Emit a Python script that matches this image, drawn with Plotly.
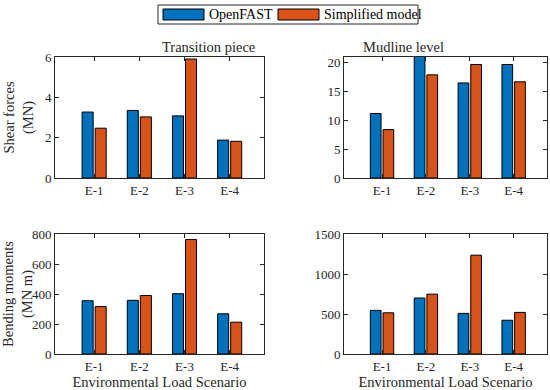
import plotly.graph_objects as go
from plotly.subplots import make_subplots

scenarios = ["E-1", "E-2", "E-3", "E-4"]
shear_tp_openfast = [3.27, 3.35, 3.08, 1.88]
shear_tp_simplified = [2.47, 3.03, 5.90, 1.82]
shear_ml_openfast = [11.2, 21.3, 16.5, 19.7]
shear_ml_simplified = [8.4, 17.9, 19.7, 16.7]
bend_tp_openfast = [355, 358, 402, 268]
bend_tp_simplified = [316, 390, 763, 212]
bend_ml_openfast = [545, 700, 508, 422]
bend_ml_simplified = [515, 748, 1235, 520]
series_names = ["OpenFAST", "Simplified model"]

BLUE = "#0072BD"
ORANGE = "#D95319"
FONT = "Liberation Serif, DejaVu Serif, serif"
TXT = "#262626"

fig = make_subplots(rows=2, cols=2)

panels = [
    (1, 1, shear_tp_openfast, shear_tp_simplified, [0, 6], [0, 2, 4, 6]),
    (1, 2, shear_ml_openfast, shear_ml_simplified, [0, 21], [0, 5, 10, 15, 20]),
    (2, 1, bend_tp_openfast, bend_tp_simplified, [0, 800], [0, 200, 400, 600, 800]),
    (2, 2, bend_ml_openfast, bend_ml_simplified, [0, 1500], [0, 500, 1000, 1500]),
]

for r, c, a, b, yr, yt in panels:
    fig.add_trace(go.Bar(x=scenarios, y=a, name=series_names[0], marker_color=BLUE,
                         marker_line_color="black", marker_line_width=1,
                         showlegend=False), row=r, col=c)
    fig.add_trace(go.Bar(x=scenarios, y=b, name=series_names[1], marker_color=ORANGE,
                         marker_line_color="black", marker_line_width=1,
                         showlegend=False), row=r, col=c)
    fig.update_yaxes(range=yr, tickvals=yt, row=r, col=c)

xdom = {1: [55 / 550, 264 / 550], 2: [344 / 550, 547 / 550]}
ydom = {1: [1 - 178 / 390, 1 - 57 / 390], 2: [1 - 354 / 390, 1 - 234 / 390]}
for r in (1, 2):
    for c in (1, 2):
        fig.update_xaxes(domain=xdom[c], row=r, col=c)
        fig.update_yaxes(domain=ydom[r], row=r, col=c)

axis_style = dict(showline=True, mirror="ticks", linecolor="#262626", linewidth=1,
                  ticks="inside", ticklen=4, tickcolor="#262626", showgrid=False,
                  zeroline=False, automargin=False,
                  tickfont=dict(family=FONT, size=13, color=TXT))
fig.update_xaxes(range=[-0.867, 3.76], **axis_style)
fig.update_yaxes(**axis_style)

tfont = dict(family=FONT, size=14.5, color=TXT)
fig.update_yaxes(title=dict(text="Shear forces<br>(MN)", font=tfont, standoff=7), row=1, col=1)
fig.update_yaxes(title=dict(text="Bending moments<br>(MN m)", font=tfont, standoff=7), row=2, col=1)
fig.update_xaxes(title=dict(text="Environmental Load Scenario", font=tfont, standoff=1), row=2, col=1)
fig.update_xaxes(title=dict(text="Environmental Load Scenario", font=tfont, standoff=1), row=2, col=2)

for c, t in ((1, "Transition piece"), (2, "Mudline level")):
    fig.add_annotation(text=t, x=(xdom[c][0] + xdom[c][1]) / 2, y=1 - 47 / 390,
                       xref="paper", yref="paper", showarrow=False, yanchor="middle",
                       font=tfont)

# custom legend (wide swatches like the original)
def px(x):
    return x / 550

def py(y):
    return 1 - y / 390

fig.add_shape(type="rect", xref="paper", yref="paper", x0=px(158), x1=px(418),
              y0=py(24), y1=py(5), line=dict(color="#262626", width=1), fillcolor="white")
for (x0, x1, tx, col, name) in ((163, 204, 207, BLUE, series_names[0]),
                                (278, 319, 322, ORANGE, series_names[1])):
    fig.add_shape(type="rect", xref="paper", yref="paper", x0=px(x0), x1=px(x1),
                  y0=py(20), y1=py(9), line=dict(color="black", width=1), fillcolor=col)
    fig.add_annotation(text=name, x=px(tx), y=py(14.5), xref="paper", yref="paper",
                       showarrow=False, xanchor="left", yanchor="middle",
                       font=dict(family=FONT, size=14, color="black"))

fig.update_layout(
    width=550, height=390,
    margin=dict(l=0, r=0, t=0, b=0),
    paper_bgcolor="white", plot_bgcolor="white",
    barmode="group", bargap=0.422, bargroupgap=0.155,
    showlegend=False,
)

fig.write_html("out.html", config={"displayModeBar": False},
               post_script="document.body.style.margin='0';")
